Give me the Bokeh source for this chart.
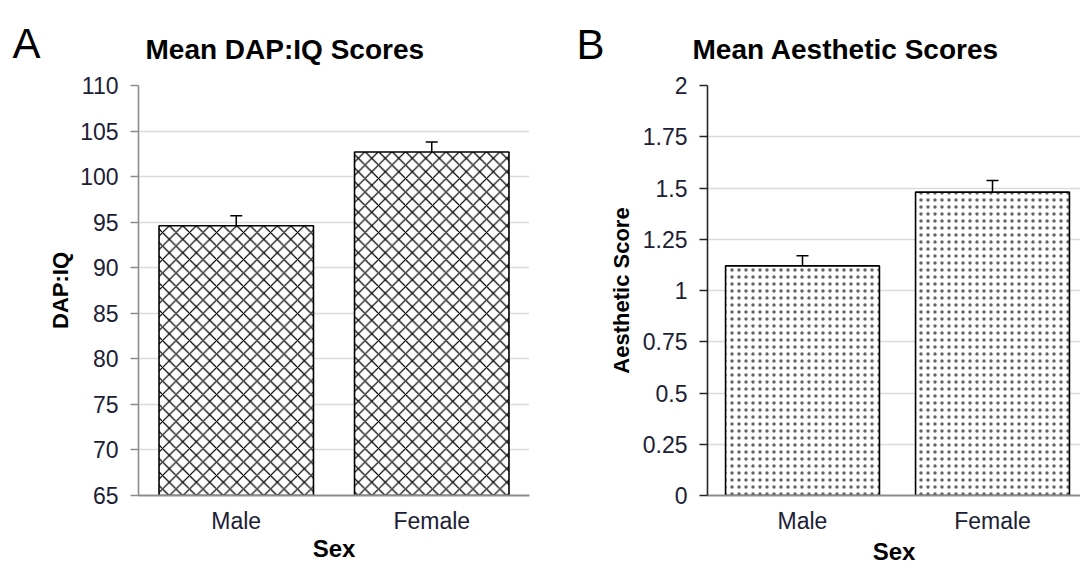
from bokeh.plotting import figure
from bokeh.models import (Range1d, FixedTicker, Whisker, TeeHead, ColumnDataSource,
                          Label)
from bokeh.layouts import row, column
from bokeh.embed import file_html
from bokeh.resources import INLINE

# ---- data ----
categories = ["Male", "Female"]
iq_means = [94.6, 102.7]
iq_err = [1.1, 1.1]
aes_means = [1.12, 1.48]
aes_err = [0.05, 0.056]
iq_ticks = [65, 70, 75, 80, 85, 90, 95, 100, 105, 110]
iq_tick_labels = ["65", "70", "75", "80", "85", "90", "95", "100", "105", "110"]
aes_ticks = [0, 0.25, 0.5, 0.75, 1, 1.25, 1.5, 1.75, 2]
aes_tick_labels = ["0", "0.25", "0.5", "0.75", "1", "1.25", "1.5", "1.75", "2"]
panel_letters = ["A", "B"]
panel_titles = ["Mean DAP:IQ Scores", "Mean Aesthetic Scores"]
x_title = "Sex"
y_titles = ["DAP:IQ", "Aesthetic Score"]

FONT = "Liberation Sans"
TICK_COLOR = "#202035"
TOTAL_W = 1080
HEAD_H = 70
MAIN_H = 500


def make_panel(width, height, mb_left, mb_right, mb_top, mb_bottom, x_end,
               y_start, y_end, ticks, tick_labels, means, errs, ylabel,
               ylabel_standoff, xlabel_standoff,
               hatch, hatch_scale, hatch_weight, hatch_alpha, bar_width,
               yaxis_color):
    xs = [i + 0.5 for i in range(len(categories))]
    p = figure(width=width, height=height, output_backend="svg",
               toolbar_location=None,
               x_range=Range1d(0, x_end), y_range=Range1d(y_start, y_end),
               min_border_left=mb_left, min_border_right=mb_right,
               min_border_top=mb_top, min_border_bottom=mb_bottom)
    p.outline_line_color = None
    p.background_fill_color = "white"
    p.border_fill_color = "white"

    src = ColumnDataSource(dict(
        x=xs, top=means,
        upper=[m + e for m, e in zip(means, errs)],
        lower=[m - e for m, e in zip(means, errs)],
    ))
    p.vbar(x="x", top="top", bottom=y_start, width=bar_width, source=src,
           fill_color="white", line_color="black", line_width=1.6,
           hatch_pattern=hatch, hatch_color="black", hatch_scale=hatch_scale,
           hatch_weight=hatch_weight, hatch_alpha=hatch_alpha)
    w = Whisker(base="x", upper="upper", lower="lower", source=src,
                line_color="black", line_width=1.5,
                upper_head=TeeHead(size=12, line_color="black", line_width=1.5),
                lower_head=TeeHead(size=12, line_color="black", line_width=1.5))
    p.add_layout(w)

    # grid
    p.xgrid.visible = False
    p.ygrid.ticker = FixedTicker(ticks=ticks)
    p.ygrid.grid_line_color = "#dcdcdc"
    p.ygrid.grid_line_width = 1.5

    # y axis
    ya = p.yaxis[0]
    ya.ticker = FixedTicker(ticks=ticks)
    ya.major_label_overrides = {t: l for t, l in zip(ticks, tick_labels)}
    ya.major_tick_out = 8
    ya.major_tick_in = 0
    ya.minor_tick_out = 0
    ya.minor_tick_in = 0
    ya.major_label_standoff = 12
    ya.major_label_text_font = FONT
    ya.major_label_text_font_size = "23px"
    ya.major_label_text_color = TICK_COLOR
    ya.axis_line_color = yaxis_color
    ya.major_tick_line_color = yaxis_color
    ya.axis_line_width = 1.6
    ya.major_tick_line_width = 1.6
    ya.axis_label = ylabel
    ya.axis_label_text_font = FONT
    ya.axis_label_text_font_size = "22px"
    ya.axis_label_text_font_style = "bold"
    ya.axis_label_text_color = "black"
    ya.axis_label_standoff = ylabel_standoff

    # x axis
    xa = p.xaxis[0]
    xa.ticker = FixedTicker(ticks=xs)
    xa.major_label_overrides = {x: c for x, c in zip(xs, categories)}
    xa.major_tick_out = 0
    xa.major_tick_in = 0
    xa.minor_tick_out = 0
    xa.minor_tick_in = 0
    xa.major_label_standoff = 12
    xa.major_label_text_font = FONT
    xa.major_label_text_font_size = "23px"
    xa.major_label_text_color = TICK_COLOR
    xa.axis_line_color = "#8c8c8c"
    xa.axis_line_width = 2
    xa.axis_label = x_title
    xa.axis_label_text_font = FONT
    xa.axis_label_text_font_size = "24px"
    xa.axis_label_text_font_style = "bold"
    xa.axis_label_text_color = "black"
    xa.axis_label_standoff = xlabel_standoff
    return p


# ---- header with panel letters and titles ----
head = figure(width=TOTAL_W, height=HEAD_H, output_backend="svg",
              toolbar_location=None, x_range=Range1d(0, TOTAL_W),
              y_range=Range1d(HEAD_H, 0), min_border=0,
              x_axis_location=None, y_axis_location=None)
head.grid.visible = False
head.outline_line_color = None
head.background_fill_color = "white"
head.border_fill_color = "white"
letter_pos = [(26, 43), (590, 44)]
title_pos = [(145, 49), (692, 49)]
for letter, (lx, ly) in zip(panel_letters, letter_pos):
    head.add_layout(Label(x=lx, y=ly, text=letter, text_font=FONT,
                          text_font_size="42px", text_align="center",
                          text_baseline="alphabetic", text_color="black"))
for title, (tx, ty) in zip(panel_titles, title_pos):
    head.add_layout(Label(x=tx, y=ty, text=title, text_font=FONT,
                          text_font_size="28px", text_font_style="bold",
                          text_align="left", text_baseline="alphabetic",
                          text_color="black"))

# ---- Panel A ----
pa = make_panel(560, MAIN_H, 138, 31, 15, 72, 2, 65, 110, iq_ticks,
                iq_tick_labels, iq_means, iq_err, y_titles[0], 4, -2,
                "diagonal_cross", 13.5, 1.2, 1.0, 0.79, "#8c8c8c")

# ---- Panel B ----
pb = make_panel(TOTAL_W - 560, MAIN_H, 147, 0, 12, 75, 373 / 190, 0, 2,
                aes_ticks, aes_tick_labels, aes_means, aes_err, y_titles[1],
                6, 1, "dot", 7, 0.5, 0.6, 0.81, "#262626")

layout = column(head, row(pa, pb))
open("out.html", "w").write(file_html(layout, INLINE))
